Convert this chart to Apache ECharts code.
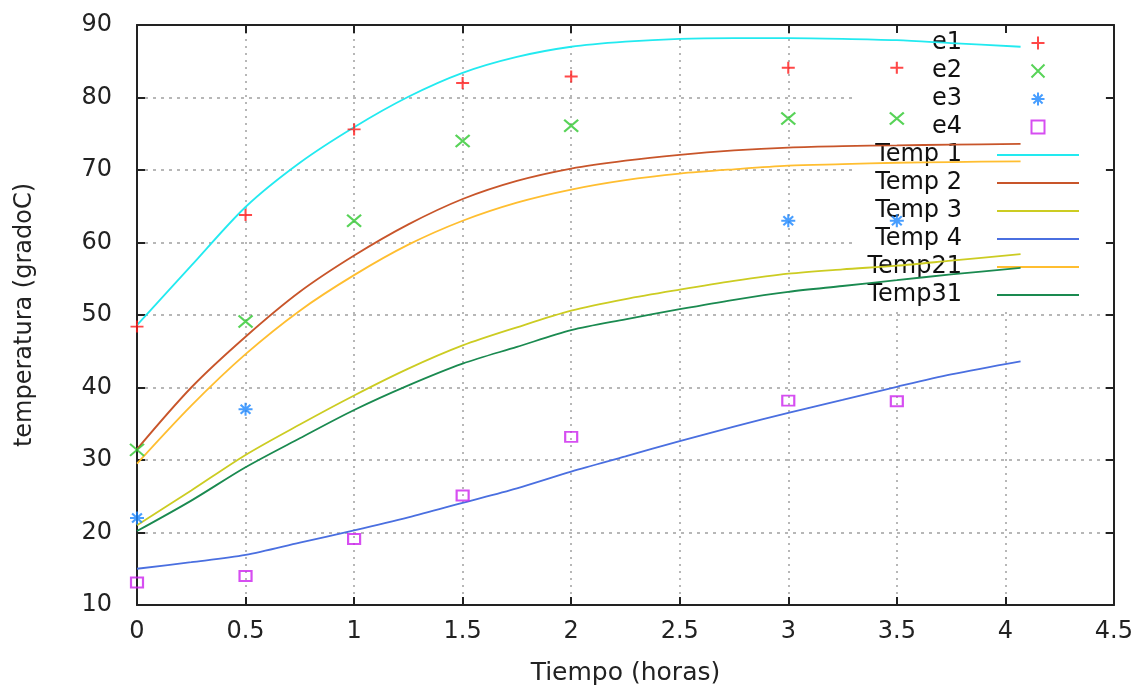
<!DOCTYPE html>
<html><head><meta charset="utf-8">
<script src="https://cdn.jsdelivr.net/npm/echarts@6/dist/echarts.min.js"></script>
<style>html,body{margin:0;padding:0;background:#fff}#c{width:1136px;height:691px}</style>
</head><body><div id="c"></div>
<script>
// ---- data ----
const tCurve = [0, 0.25, 0.5, 0.75, 1, 1.25, 1.5, 1.75, 2, 2.25, 2.5, 2.75, 3, 3.25, 3.5, 3.75, 4.07];
const temp1  = [48.6, 56.8, 64.9, 71.0, 75.9, 80.1, 83.4, 85.6, 87.0, 87.7, 88.1, 88.2, 88.2, 88.1, 87.9, 87.5, 87.0];
const temp2  = [31.5, 40.0, 47.0, 53.2, 58.2, 62.5, 66.0, 68.5, 70.2, 71.3, 72.1, 72.7, 73.1, 73.3, 73.4, 73.5, 73.6];
const temp3  = [21.0, 25.8, 30.7, 34.9, 38.9, 42.6, 45.8, 48.3, 50.6, 52.2, 53.5, 54.7, 55.7, 56.3, 56.8, 57.5, 58.4];
const temp4  = [15.0, 15.9, 16.9, 18.6, 20.3, 22.1, 24.1, 26.1, 28.4, 30.5, 32.6, 34.6, 36.5, 38.3, 40.1, 41.8, 43.6];
const temp21 = [29.5, 37.5, 44.6, 50.6, 55.5, 59.7, 63.0, 65.5, 67.3, 68.6, 69.5, 70.1, 70.6, 70.8, 71.0, 71.1, 71.2];
const temp31 = [20.2, 24.4, 29.0, 33.0, 36.9, 40.3, 43.3, 45.6, 47.9, 49.4, 50.8, 52.1, 53.2, 54.0, 54.8, 55.6, 56.5];

const tExp  = [0, 0.5, 1, 1.5, 2, 3, 3.5];
const e1    = [48.4, 63.8, 75.6, 82.0, 82.9, 84.1, 84.1];
const e2    = [31.4, 49.1, 63.0, 74.0, 76.1, 77.1, 77.1];
const tExp3 = [0, 0.5, 3, 3.5];
const e3    = [22.0, 37.0, 63.0, 63.0];
const e4    = [13.1, 14.0, 19.1, 25.1, 33.2, 38.2, 38.1];

const xTicks = { min: 0, max: 4.5, interval: 0.5 };
const yTicks = { min: 10, max: 90, interval: 10 };
const xTitle = 'Tiempo (horas)';
const yTitle = 'temperatura (gradoC)';
const markerNames = ['e1', 'e2', 'e3', 'e4'];
const curveNames = ['Temp 1', 'Temp 2', 'Temp 3', 'Temp 4', 'Temp21', 'Temp31'];

// ---- chart ----
const pair = (xs, ys) => xs.map((x, i) => [x, ys[i]]);
const FONT = 'DejaVu Sans';
const AX = '#222';
const LINE_ICON = 'path://M0,0H80V1.9H0Z';

const lineSeries = (name, ys, color) => ({
  name, type: 'line', data: pair(tCurve, ys), showSymbol: false, symbol: 'none',
  smooth: 0.3, lineStyle: { color, width: 1.8 }, itemStyle: { color }, z: 2, animation: false
});
const scatterSeries = (name, xs, ys, color, symbol, size) => ({
  name, type: 'scatter', data: pair(xs, ys), symbol, symbolSize: size, clip: false,
  itemStyle: { color: 'rgba(0,0,0,0)', borderColor: color, borderWidth: 2 }, z: 2, animation: false
});

const frameAxisX = (position) => ({
  type: 'value', position, min: xTicks.min, max: xTicks.max, interval: xTicks.interval, z: 3,
  axisLine: { show: true, onZero: false, lineStyle: { color: AX, width: 2 } },
  axisTick: { show: true, inside: true, length: 8, lineStyle: { color: AX, width: 2 } },
  axisLabel: { show: false }, splitLine: { show: false }
});
const frameAxisY = (position) => ({
  type: 'value', position, min: yTicks.min, max: yTicks.max, interval: yTicks.interval, z: 3,
  axisLine: { show: true, onZero: false, lineStyle: { color: AX, width: 2 } },
  axisTick: { show: true, inside: true, length: 8, lineStyle: { color: AX, width: 2 } },
  axisLabel: { show: false }, splitLine: { show: false }
});

const option = {
  animation: false,
  backgroundColor: '#fff',
  grid: { left: 137, right: 19, top: 25, bottom: 81, containLabel: false },
  legend: {
    orient: 'vertical', align: 'right', right: 19, top: 25,
    padding: [6, 38, 1, 11], backgroundColor: '#fff', z: 1,
    itemWidth: 82, itemHeight: 13, itemGap: 4,
    textStyle: { fontFamily: FONT, fontSize: 24, lineHeight: 24, color: '#111', padding: [0, 30, 0, 0] },
    data: markerNames.concat(curveNames.map(n => ({ name: n, icon: LINE_ICON }))),
    selectedMode: false
  },
  xAxis: [
    {
      type: 'value', position: 'bottom', min: xTicks.min, max: xTicks.max, interval: xTicks.interval, z: 0,
      name: xTitle, nameLocation: 'middle', nameGap: 56,
      nameTextStyle: { fontFamily: FONT, fontSize: 25, color: '#222' },
      axisLine: { show: true, onZero: false, lineStyle: { color: AX, width: 2 } },
      axisTick: { show: true, inside: true, length: 8, lineStyle: { color: AX, width: 2 } },
      axisLabel: { margin: 15, fontFamily: FONT, fontSize: 24, color: '#222', showMinLabel: true, showMaxLabel: true },
      splitLine: { show: true, lineStyle: { color: '#a0a0a0', width: 1.5, type: [2, 5] } }
    },
    frameAxisX('top')
  ],
  yAxis: [
    {
      type: 'value', position: 'left', min: yTicks.min, max: yTicks.max, interval: yTicks.interval, z: 0,
      name: yTitle, nameLocation: 'middle', nameGap: 100,
      nameTextStyle: { fontFamily: FONT, fontSize: 24, color: '#222' },
      axisLine: { show: true, onZero: false, lineStyle: { color: AX, width: 2 } },
      axisTick: { show: true, inside: true, length: 8, lineStyle: { color: AX, width: 2 } },
      axisLabel: { margin: 25, fontFamily: FONT, fontSize: 24, color: '#222', showMinLabel: true, showMaxLabel: true },
      splitLine: { show: true, lineStyle: { color: '#a0a0a0', width: 1.5, type: [3, 5] } }
    },
    frameAxisY('right')
  ],
  series: [
    scatterSeries('e1', tExp, e1, '#ff1a1a', 'path://M0,5L10,5M5,0L5,10', [13, 12]),
    scatterSeries('e2', tExp, e2, '#2ec82e', 'path://M0,0L10,10M10,0L0,10', [14, 12]),
    scatterSeries('e3', tExp3, e3, '#1a86ff', 'path://M0,5L10,5M5,0L5,10M1.5,1.5L8.5,8.5M8.5,1.5L1.5,8.5', [14, 13]),
    scatterSeries('e4', tExp, e4, '#cc22ee', 'path://M0,0H10V10H0Z', [12, 10]),
    lineSeries('Temp 1', temp1, '#22eaf0'),
    lineSeries('Temp 2', temp2, '#c8552a'),
    lineSeries('Temp 3', temp3, '#cccc22'),
    lineSeries('Temp 4', temp4, '#4a6fe0'),
    lineSeries('Temp21', temp21, '#ffbe30'),
    lineSeries('Temp31', temp31, '#1a8a50')
  ]
};

const chart = echarts.init(document.getElementById('c'), null, { renderer: 'canvas' });
chart.setOption(option);
</script></body></html>
